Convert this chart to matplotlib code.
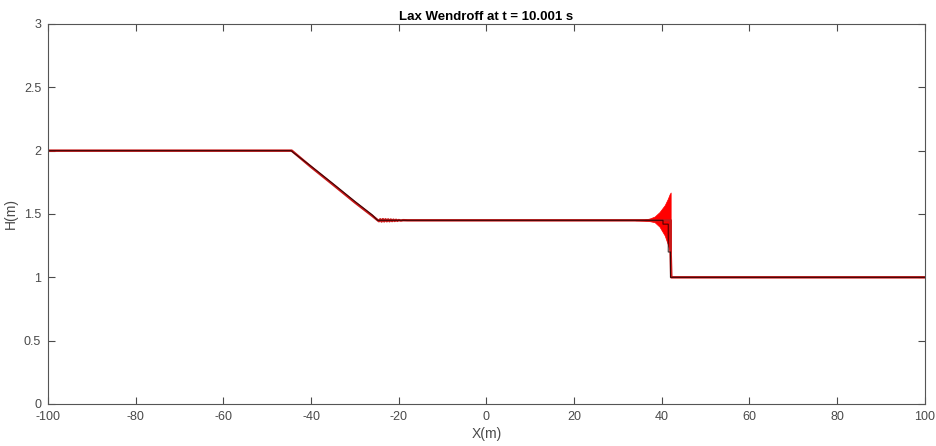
import numpy as np
import matplotlib
matplotlib.use('Agg')
import matplotlib.pyplot as plt

plt.rcParams['font.family'] = ['Liberation Sans', 'DejaVu Sans']
plt.rcParams['axes.unicode_minus'] = False

# Lax-Wendroff depth profile (red): dam break at t = 10.001 s
lw_x = [-100, -44.4, -40, -35, -30, -26, -24.5,
        -24.2, -23.9, -23.6, -23.3, -23.0, -22.7, -22.4, -22.1, -21.8,
        -21.5, -21.2, -20.9, -20.6, -20.3, -20.0, -19.5, -19.0, -18.0,
        34.0, 42.05, 42.05, 42.2, 100]
lw_h = [2.0, 2.0, 1.872, 1.733, 1.592, 1.485, 1.443,
        1.458, 1.441, 1.459, 1.442, 1.458, 1.443, 1.457, 1.443, 1.456,
        1.444, 1.455, 1.445, 1.454, 1.446, 1.452, 1.448, 1.451, 1.45,
        1.45, 1.45, 1.19, 1.0, 1.0]

# oscillation envelope behind the shock front
osc_x = [34.0, 36.0, 37.3, 38.4, 39.5, 40.7, 41.4, 41.8, 42.05]
osc_hi = [1.45, 1.455, 1.465, 1.48, 1.515, 1.57, 1.62, 1.655, 1.67]
osc_lo = [1.45, 1.447, 1.443, 1.435, 1.40, 1.33, 1.26, 1.21, 1.19]

# reference profile (black)
ref_x = [-100, -44.6, -40, -35, -30, -26, -24.8, 40.3, 40.3, 41.5, 41.5, 42.0, 42.0, 100]
ref_h = [2.0, 2.0, 1.878, 1.74, 1.60, 1.492, 1.45, 1.45, 1.42, 1.42, 1.20, 1.20, 1.0, 1.0]

xticks = [-100, -80, -60, -40, -20, 0, 20, 40, 60, 80, 100]
yticks = [0, 0.5, 1, 1.5, 2, 2.5, 3]
ytick_labels = ['0', '0.5', '1', '1.5', '2', '2.5', '3']

fig = plt.figure(figsize=(9.36, 4.46), dpi=100)
ax = fig.add_axes([0.0513, 0.0942, 0.9366, 0.8520])

ax.fill_between(osc_x, osc_lo, osc_hi, color='#ff0000', lw=0.5)
ax.plot(lw_x, lw_h, color='#c81818', lw=1.8)
ax.plot(ref_x, ref_h, color='#1a0000', lw=0.8, alpha=0.8)

ax.set_xlim(-100, 100)
ax.set_ylim(0, 3)
ax.set_xticks(xticks)
ax.set_yticks(yticks)
ax.set_yticklabels(ytick_labels)
ax.tick_params(direction='in', length=5, width=0.8, top=True, right=True,
               labelsize=9, colors='#4a4a4a', pad=5)
for s in ax.spines.values():
    s.set_color('#555555')
    s.set_linewidth(0.8)

ax.set_title('Lax Wendroff at t = 10.001 s', fontsize=9.5, fontweight='bold', pad=3)
ax.set_xlabel('X(m)', fontsize=10, color='#4a4a4a', labelpad=3)
ax.set_ylabel('H(m)', fontsize=10, color='#4a4a4a', labelpad=4)

fig.savefig('out.png', dpi=100)
